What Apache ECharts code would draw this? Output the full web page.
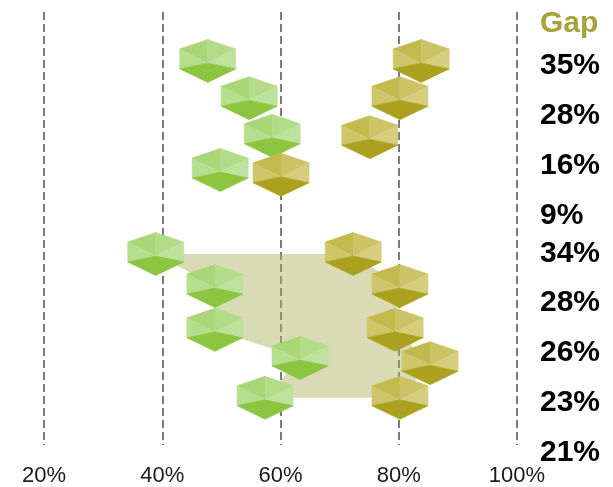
<!DOCTYPE html>
<html>
<head>
<meta charset="utf-8">
<script src="https://cdn.jsdelivr.net/npm/echarts@6/dist/echarts.min.js"></script>
<style>html,body{margin:0;padding:0;background:#fff;}#c{width:613px;height:487px;}</style>
</head>
<body>
<div id="c"></div>
<script>
// Values (x in %, rows = vertical position on a 0-10 scale)
const greenValues = [47.7, 54.7, 58.6, 49.8, 38.9, 48.9, 48.9, 63.3, 57.4];
const oliveValues = [83.8, 80.2, 75.1, 60.1, 72.3, 80.2, 79.4, 85.3, 80.2];
const greenRows   = [1.13, 1.99, 2.86, 3.65, 5.59, 6.33, 7.34, 7.99, 8.91];
const oliveRows   = [1.13, 1.99, 2.89, 3.76, 5.59, 6.33, 7.34, 8.11, 8.91];
const gapLabels   = ['35%', '28%', '16%', '9%', '34%', '28%', '26%', '23%', '21%'];
const gapRows     = [1.25, 2.40, 3.56, 4.71, 5.59, 6.72, 7.88, 9.03, 10.18];
const gapHeader   = 'Gap';
const gapHeaderRow = 0.27;
const shadedIdx   = [4, 5, 6, 7, 8];
const xTicks      = [20, 40, 60, 80, 100];

const greenFaces = ['#a9d676', '#b6de8f', '#b2dc88', '#bee29d', '#8cc540'];
const oliveFaces = ['#c3ba4d', '#cdc66b', '#cbc366', '#d4ce7e', '#aba11e'];

function hexRender(colors) {
  return function (params, api) {
    const c = api.coord([api.value(0), api.value(1)]);
    const x = c[0], y = c[1];
    const T = [x, y - 21.5], UR = [x + 28, y - 12], LR = [x + 28, y + 8],
          B = [x, y + 21.5], LL = [x - 28, y + 8], UL = [x - 28, y - 12], C = [x, y + 2];
    const faces = [[T, UL, C], [UL, LL, C], [T, UR, C], [UR, LR, C], [C, LR, B, LL]];
    return {
      type: 'group',
      children: faces.map((pts, k) => ({
        type: 'polygon',
        shape: { points: pts },
        style: { fill: colors[k], stroke: colors[k], lineWidth: 0.6 }
      }))
    };
  };
}

const chart = echarts.init(document.getElementById('c'), null, { renderer: 'canvas' });
const option = {
  animation: false,
  backgroundColor: '#fff',
  grid: { left: 44, right: 96, top: 12, bottom: 42, containLabel: false },
  xAxis: {
    type: 'value', min: 20, max: 100, interval: 20,
    axisLine: { show: false }, axisTick: { show: false },
    axisLabel: {
      formatter: v => xTicks.includes(v) ? v + '%' : '',
      fontFamily: 'Liberation Sans', fontSize: 22, color: '#1a1a1a', margin: 20
    },
    splitLine: { show: true, lineStyle: { color: '#7a7a7a', width: 2, type: [8, 4] } }
  },
  yAxis: {
    type: 'value', min: 0, max: 10, inverse: true, show: false,
    splitLine: { show: false }
  },
  series: [
    {
      type: 'custom', name: 'shade', silent: true, z: 1,
      data: [[0, 0]],
      renderItem: function (params, api) {
        const pts = [];
        shadedIdx.forEach(i => pts.push(api.coord([greenValues[i], greenRows[i]])));
        shadedIdx.slice().reverse().forEach(i => pts.push(api.coord([oliveValues[i], oliveRows[i]])));
        return { type: 'polygon', shape: { points: pts }, style: { fill: 'rgba(170,175,90,0.45)' } };
      }
    },
    {
      type: 'custom', name: 'green', z: 3,
      data: greenValues.map((v, i) => [v, greenRows[i]]),
      renderItem: hexRender(greenFaces)
    },
    {
      type: 'custom', name: 'olive', z: 3,
      data: oliveValues.map((v, i) => [v, oliveRows[i]]),
      renderItem: hexRender(oliveFaces)
    },
    {
      type: 'custom', name: 'gaps', z: 4, clip: false,
      data: gapLabels.map((t, i) => [100, gapRows[i], t]),
      renderItem: function (params, api) {
        const c = api.coord([100, api.value(1)]);
        return {
          type: 'text',
          x: c[0] + 23, y: c[1],
          style: {
            text: gapLabels[params.dataIndex], fill: '#000',
            font: 'bold 30px "Liberation Sans"', textAlign: 'left', textVerticalAlign: 'middle'
          }
        };
      }
    },
    {
      type: 'custom', name: 'header', z: 4, clip: false,
      data: [[100, gapHeaderRow]],
      renderItem: function (params, api) {
        const c = api.coord([100, api.value(1)]);
        return {
          type: 'text',
          x: c[0] + 23, y: c[1],
          style: {
            text: gapHeader, fill: '#a8a23c',
            font: 'bold 30px "Liberation Sans"', textAlign: 'left', textVerticalAlign: 'middle'
          }
        };
      }
    }
  ]
};
chart.setOption(option);
</script>
</body>
</html>
